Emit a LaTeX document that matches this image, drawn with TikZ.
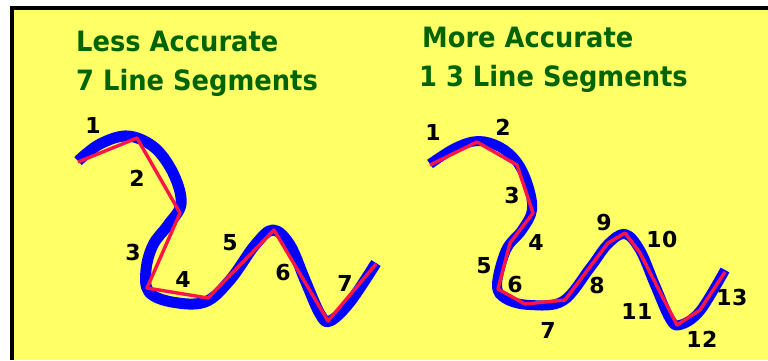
\documentclass[tikz,border=0pt]{standalone}
\usepackage{fontspec}
\newfontfamily\titlefont[FakeStretch=0.92]{DejaVu Sans Bold}
\newfontfamily\numfont{DejaVu Sans Bold}
\definecolor{bgyellow}{RGB}{255,255,102}
\definecolor{titlegreen}{RGB}{0,100,0}
\definecolor{curveblue}{RGB}{0,0,255}
\definecolor{segred}{RGB}{255,20,70}
\begin{document}
\begin{tikzpicture}[x=1pt,y=-1pt,
  title/.style={anchor=base west,inner sep=0pt,text=titlegreen,font=\titlefont\fontsize{28}{30}\selectfont},
  num/.style={inner sep=0pt,text=black,font=\numfont\fontsize{22}{24}\selectfont},
  curve/.style={draw=curveblue,line width=11pt,line cap=butt,line join=round},
  seg/.style={draw=segred,line width=3.4pt,line join=round}]
\useasboundingbox (0,0) rectangle (768,360);
\fill[white] (0,0) rectangle (768,360);
\fill[bgyellow] (14,10) rectangle (768,360);
\fill[black] (10,6) rectangle (768,10);
\fill[black] (10,6) rectangle (14,360);
% titles
\node[title] (t1) at (76,51) {Less Accurate};
\node[title] (t2) at (76,90) {7 Line Segments};
\node[title] (t3) at (422,47) {More Accurate};
\node[title] (t4) at (419,86) {1 3 Line Segments};
% left curve
\draw[curve] plot[smooth,tension=0.6] coordinates {(78,161) (100,144) (128,136) (155,148) (174,175) (181,204) (168,225) (153,245) (146,270) (149,292) (172,302) (205,302) (230,280) (255,245) (273,230) (290,245) (305,280) (320,314) (330,321) (350,302) (376,263)};
\coordinate (p1) at (78,162);
\coordinate (p2) at (137,138);
\coordinate (p3) at (180,213);
\coordinate (p4) at (147,288);
\coordinate (p5) at (208,298);
\coordinate (p6) at (274,230);
\coordinate (p7) at (328,321);
\coordinate (p8) at (376,264);
\draw[seg] (p1) -- (p2) -- (p3) -- (p4) -- (p5) -- (p6) -- (p7) -- (p8);
% right curve
\draw[curve,line width=10pt] plot[smooth,tension=0.6] coordinates {(430,164) (455,148) (478,141) (500,147) (517,162) (528,185) (532,210) (522,230) (506,250) (497,285) (506,299) (530,305) (563,301) (590,268) (608,244) (625,234) (640,250) (655,285) (670,319) (680,325) (700,311) (725,270)};
\coordinate (q1) at (430,165);
\coordinate (q2) at (477,142);
\coordinate (q3) at (517,165);
\coordinate (q4) at (533,213);
\coordinate (q5) at (510,243);
\coordinate (q6) at (498,289);
\coordinate (q7) at (525,304);
\coordinate (q8) at (565,300);
\coordinate (q9) at (608,243);
\coordinate (q10) at (625,233);
\coordinate (q11) at (640,253);
\coordinate (q12) at (677,325);
\coordinate (q13) at (700,310);
\coordinate (q14) at (725,272);
\draw[seg] (q1) -- (q2) -- (q3) -- (q4) -- (q5) -- (q6) -- (q7) -- (q8) -- (q9) -- (q10) -- (q11) -- (q12) -- (q13) -- (q14);
% left labels
\node[num] (l1) at (93,125) {1};
\node[num] (l2) at (137,178) {2};
\node[num] (l3) at (133,252) {3};
\node[num] (l4) at (183,279) {4};
\node[num] (l5) at (230,243) {5};
\node[num] (l6) at (283,272) {6};
\node[num] (l7) at (345,283) {7};
% right labels
\node[num] (r1) at (433,132) {1};
\node[num] (r2) at (503,127) {2};
\node[num] (r3) at (512,195) {3};
\node[num] (r4) at (536,242) {4};
\node[num] (r5) at (484,266) {5};
\node[num] (r6) at (515,284) {6};
\node[num] (r7) at (548,330) {7};
\node[num] (r8) at (597,285) {8};
\node[num] (r9) at (604,222) {9};
\node[num] (r10) at (662,239) {1\kern0.5pt0};
\node[num] (r11) at (637,311) {1\kern0.5pt1};
\node[num] (r12) at (702,339) {1\kern0.5pt2};
\node[num] (r13) at (732,297) {1\kern0.5pt3};
\end{tikzpicture}
\end{document}
